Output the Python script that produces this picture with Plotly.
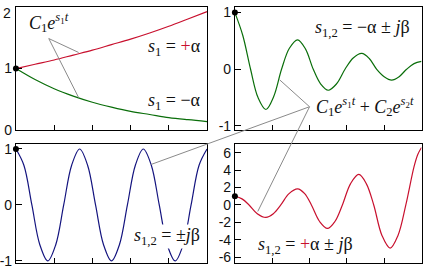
import plotly.graph_objects as go

W, H = 424, 279

# ---------------- data ----------------
t_tl = [0, 0.5, 1, 1.5, 2, 2.5, 3, 3.5, 4, 4.5, 5]
tl_grow = [1.00, 1.07, 1.14, 1.22, 1.30, 1.39, 1.48, 1.58, 1.69, 1.81, 1.93]
tl_decay = [1.00, 0.82, 0.67, 0.55, 0.45, 0.37, 0.30, 0.25, 0.20, 0.165, 0.135]

t_tr = [0, 0.21, 0.42, 0.62, 0.83, 1.04, 1.25, 1.46, 1.68, 1.89, 2.1, 2.3, 2.5,
        2.72, 2.95, 3.17, 3.4, 3.6, 3.8, 4.0, 4.2, 4.4, 4.6, 4.8, 5.0]
tr_damped = [1.0, 0.60, 0.0, -0.50, -0.71, -0.48, 0.0, 0.37, 0.52, 0.36, 0.0, -0.26, -0.37,
             -0.26, 0.0, 0.20, 0.28, 0.19, 0.0, -0.13, -0.19, -0.13, 0.0, 0.10, 0.14]

t_bl = [0, 0.208, 0.417, 0.625, 0.833, 1.042, 1.25, 1.458, 1.667, 1.875, 2.083, 2.292, 2.5,
        2.708, 2.917, 3.125, 3.333, 3.542, 3.75, 3.958, 4.167, 4.375, 4.583, 4.792, 5.0]
bl_osc = [1, 0.71, 0, -0.71, -1, -0.71, 0, 0.71, 1, 0.71, 0, -0.71, -1,
          -0.71, 0, 0.71, 1, 0.71, 0, -0.71, -1, -0.71, 0, 0.71, 1]

t_br = [0, 0.19, 0.38, 0.6, 0.83, 1.03, 1.23, 1.45, 1.68, 1.87, 2.05, 2.27, 2.48,
        2.68, 2.88, 3.1, 3.32, 3.52, 3.72, 3.94, 4.16, 4.37, 4.58, 4.8, 4.9, 5.0]
br_growing = [1.0, 0.7, 0.0, -1.0, -1.43, -1.0, 0.0, 1.3, 1.85, 1.3, 0.0, -1.9, -2.7,
              -1.9, 0.0, 2.45, 3.5, 2.45, 0.0, -3.5, -4.95, -3.5, 0.0, 4.4, 5.8, 6.6]

x_ticks = [1, 2, 3, 4]
tl_yticks = [0, 1]
tl_yticklabels = ["0", "1"]
tr_yticks = [-1, 0, 1]
tr_yticklabels = ["-1", "0", "1"]
bl_yticks = [-1, 0, 1]
bl_yticklabels = ["-1", "0", "1"]
br_yticks = [-6, -4, -2, 0, 2, 4, 6]
br_yticklabels = ["-6", "-4", "-2", "0", "2", "4", "6"]

RED = "#c8102e"
GREEN = "#0a6e0a"
BLUE = "#14147f"
GRAY = "#8a8a8a"


def fx(p):
    return p / W


def fy(p):
    return 1 - p / H


fig = go.Figure()


def curve(t, v, color, ax):
    fig.add_trace(go.Scatter(x=t, y=v, mode="lines", line=dict(color=color, width=1.2, shape="spline", smoothing=1.0),
                             xaxis="x" + ax, yaxis="y" + ax, hoverinfo="skip", showlegend=False))


def dot(t, v, ax):
    fig.add_trace(go.Scatter(x=[t[0]], y=[v[0]], mode="markers", marker=dict(color="black", size=6),
                             xaxis="x" + ax, yaxis="y" + ax, cliponaxis=False, showlegend=False, hoverinfo="skip"))


curve(t_tl, tl_grow, RED, "")
curve(t_tl, tl_decay, GREEN, "")
dot(t_tl, tl_grow, "")
curve(t_tr, tr_damped, GREEN, "2")
dot(t_tr, tr_damped, "2")
curve(t_bl, bl_osc, BLUE, "3")
dot(t_bl, bl_osc, "3")
curve(t_br, br_growing, RED, "4")
dot(t_br, br_growing, "4")

tickfont = dict(family="Liberation Sans, Arial, sans-serif", size=14, color="#111")


def xax(dom, anchor):
    return dict(domain=[fx(dom[0]), fx(dom[1])], range=[0, 5], anchor=anchor, showgrid=False, zeroline=False,
                showline=True, mirror=True, linecolor="black", linewidth=1, ticks="inside", ticklen=5,
                tickcolor="black", tickvals=x_ticks, showticklabels=False, fixedrange=True)


def yax(dom, anchor, rng, tv, tt):
    return dict(domain=[fy(dom[1]), fy(dom[0])], range=rng, anchor=anchor, showgrid=False, zeroline=False,
                showline=True, mirror=True, linecolor="black", linewidth=1, ticks="inside", ticklen=6,
                tickcolor="black", tickvals=tv, ticktext=tt, tickfont=tickfont, fixedrange=True)


LX = (14, 206)
RX = (234, 421.5)
TY = (4.5, 132)
BY = (146.5, 271)

fig.update_layout(
    width=W, height=H, margin=dict(l=0, r=0, t=0, b=0),
    paper_bgcolor="white", plot_bgcolor="white",
    xaxis=xax(LX, "y"), yaxis=yax(TY, "x", [0, 2.0], tl_yticks, tl_yticklabels),
    xaxis2=xax(RX, "y2"), yaxis2=yax(TY, "x2", [-1.068, 1.093], tr_yticks, tr_yticklabels),
    xaxis3=xax(LX, "y3"), yaxis3=yax(BY, "x3", [-1.043, 1.094], bl_yticks, bl_yticklabels),
    xaxis4=xax(RX, "y4"), yaxis4=yax(BY, "x4", [-6.70, 7.03], br_yticks, br_yticklabels),
)

# callout lines
callouts = [
    ((47, 37), (77, 51.5)),
    ((47, 37), (77, 98.5)),
    ((309, 108), (279, 80)),
    ((309, 108), (150, 168)),
    ((309, 108), (257, 217)),
]
for (a, b) in callouts:
    fig.add_shape(type="line", xref="paper", yref="paper", x0=fx(a[0]), y0=fy(a[1]), x1=fx(b[0]), y1=fy(b[1]),
                  line=dict(color=GRAY, width=1), layer="above")

mf = dict(family="Liberation Serif, Times New Roman, serif", size=18, color="#111")
red_plus = "<span style='color:%s'>+</span>" % RED
texts = [
    ("<i>C</i><sub>1</sub><i>e</i><sup><i>s</i><sub>1</sub><i>t</i></sup>", 47, 20, None),
    ("<i>s</i><sub>1</sub> = " + red_plus + "α", 173, 46, None),
    ("<i>s</i><sub>1</sub> = −α", 173, 103, None),
    ("<i>s</i><sub>1,2</sub> = −α ± <i>j</i>β", 362, 27, None),
    ("<i>C</i><sub>1</sub><i>e</i><sup><i>s</i><sub>1</sub><i>t</i></sup> + <i>C</i><sub>2</sub><i>e</i><sup><i>s</i><sub>2</sub><i>t</i></sup>", 365, 108, "white"),
    ("<i>s</i><sub>1,2</sub> = ±<i>j</i>β", 166, 243, "white"),
    ("<i>s</i><sub>1,2</sub> = " + red_plus + "α ± <i>j</i>β", 305, 252, "white"),
]
for txt, x, y, bg in texts:
    fig.add_annotation(text=txt, x=fx(x), y=fy(y), xref="paper", yref="paper", showarrow=False,
                       xanchor="center", yanchor="middle", font=mf, bgcolor=bg, borderpad=0)

# top tick label "2" of the first panel
fig.add_annotation(text="2", x=fx(11), y=fy(10), xref="paper", yref="paper", showarrow=False,
                   xanchor="right", yanchor="middle", font=tickfont)

fig.write_html("out.html")
